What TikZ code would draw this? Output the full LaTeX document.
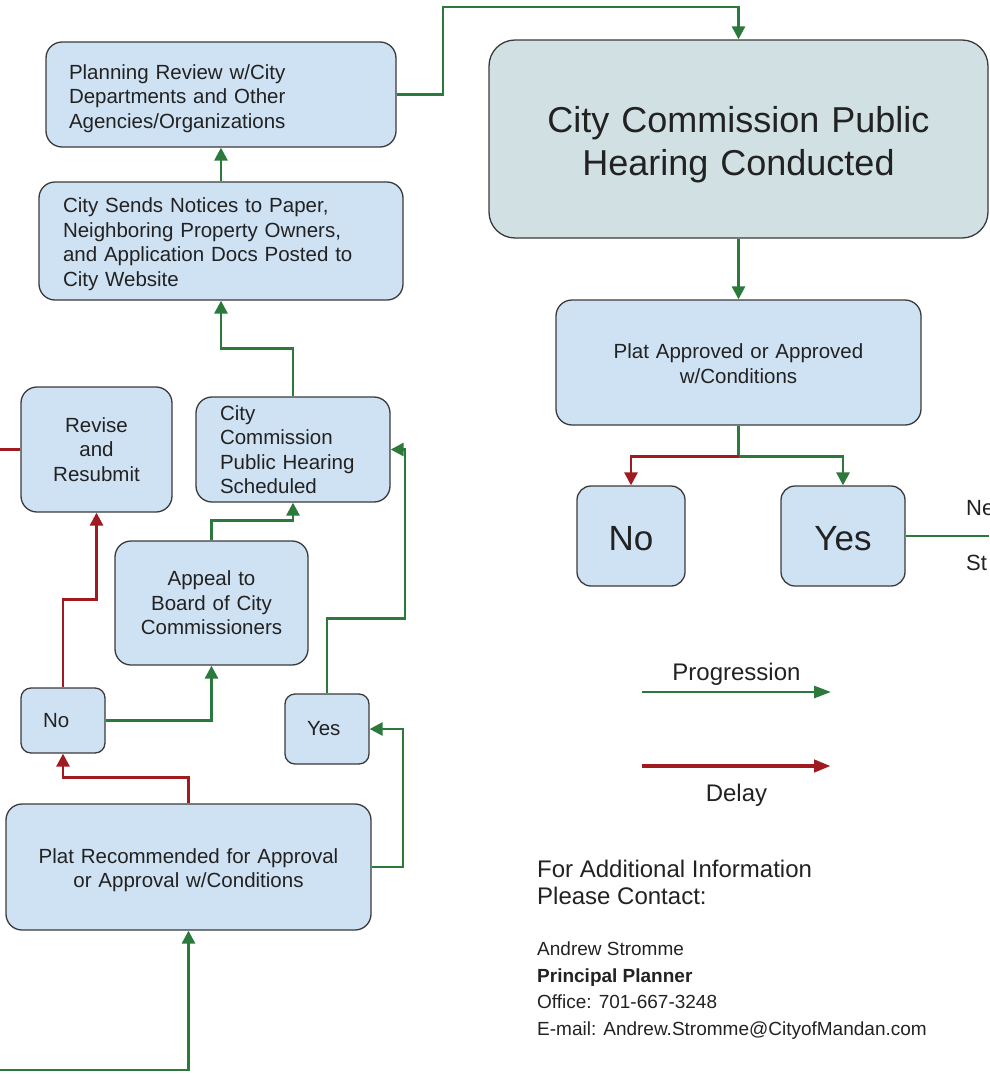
\documentclass[tikz,border=0pt]{standalone}
\usepackage{fontspec}
\setmainfont{Liberation Sans}
\usetikzlibrary{arrows.meta}
\definecolor{boxfill}{HTML}{CFE2F3}
\definecolor{hearfill}{HTML}{D0E0E3}
\definecolor{boxline}{HTML}{3A3A3A}
\definecolor{txt}{HTML}{222222}
\definecolor{gr}{RGB}{43,122,59}
\definecolor{rd}{RGB}{160,27,31}
\tikzset{
  x=1pt, y=-1pt,
  box/.style={draw=boxline, fill=boxfill, rounded corners=16pt, line width=1.3pt,
    text=txt, inner ysep=0pt, font=\fontsize{20.5}{24.5}\selectfont},
  tshift/.style={execute at begin node={\rule{0pt}{#1}}},
  gline/.style={draw=gr, line width=2.8pt},
  rline/.style={draw=rd, line width=2.8pt},
  tipa/.style={-{Triangle[length=13pt,width=13pt]}},
  prog/.style={gline, tipa},
  delay/.style={rline, tipa},
  lbl/.style={text=txt, inner sep=0pt},
}
\begin{document}
\begin{tikzpicture}
\useasboundingbox (0,0) rectangle (989,1074);
% boxes
\node[box, tshift=23pt, minimum width=350pt, minimum height=105pt, inner xsep=23pt, text width=304pt, align=left]
  (plan) at (221,94.5) {Planning Review w/City\\Departments and Other\\Agencies/Organizations};
\node[box, tshift=21pt, minimum width=364pt, minimum height=118pt, inner xsep=24pt, text width=316pt, align=left]
  (notice) at (221,241) {City Sends Notices to Paper,\\Neighboring Property Owners,\\and Application Docs Posted to\\City Website};
\node[box, minimum width=151pt, minimum height=125pt, inner xsep=8pt, text width=135pt, align=center]
  (revise) at (96.5,449.5) {Revise\\and\\Resubmit};
\node[box, minimum width=194pt, minimum height=105pt, inner xsep=24pt, text width=146pt, align=left]
  (sched) at (293,449.5) {City\\Commission\\Public Hearing\\Scheduled};
\node[box, minimum width=193pt, minimum height=124pt, inner xsep=8pt, text width=177pt, align=center]
  (appeal) at (211.5,603) {Appeal to\\Board of City\\Commissioners};
\node[box, rounded corners=10pt, minimum width=84pt, minimum height=65pt, inner xsep=22pt, text width=40pt, align=left]
  (no1) at (63,720.5) {No};
\node[box, rounded corners=10pt, minimum width=84pt, minimum height=70pt, inner xsep=22pt, text width=40pt, align=left]
  (yes1) at (327,729) {Yes};
\node[box, tshift=21pt, minimum width=365pt, minimum height=126pt, inner xsep=8pt, text width=349pt, align=center]
  (rec) at (188.5,867) {Plat Recommended for Approval\\or Approval w/Conditions};
\node[box, tshift=37pt, fill=hearfill, rounded corners=26pt, minimum width=499pt, minimum height=198pt, inner xsep=8pt, text width=483pt, align=center,
  font=\fontsize{36}{43}\selectfont]
  (hear) at (738.5,139) {City Commission Public\\Hearing Conducted};
\node[box, tshift=17pt, minimum width=365pt, minimum height=125pt, inner xsep=8pt, text width=349pt, align=center]
  (appr) at (738.5,362.5) {Plat Approved or Approved\\w/Conditions};
\node[box, tshift=29pt, rounded corners=14pt, minimum width=108pt, minimum height=100pt, inner xsep=4pt, text width=100pt, align=center,
  font=\fontsize{35}{40}\selectfont]
  (no2) at (631,536) {No};
\node[box, tshift=29pt, rounded corners=14pt, minimum width=124pt, minimum height=100pt, inner xsep=4pt, text width=116pt, align=center,
  font=\fontsize{35}{40}\selectfont]
  (yes2) at (843,536) {Yes};
% free ends
\coordinate (inL) at (0,1070);
\coordinate (outRev) at (0,449.5);
\coordinate (outYes) at (989,536);
% connectors
\draw[prog] (plan.east) -| (443,7) -| (hear.north);
\draw[prog] (notice.north) -- (plan.south);
\draw[prog] (sched.north) -- ++(0,-48) -| (notice.south);
\draw[prog] (appeal.north) -- ++(0,-20) -| (sched.south);
\draw[delay] (no1.north) -- ++(0,-88) -| (revise.south);
\draw[prog] (no1.east) -| (appeal.south);
\draw[prog] (yes1.north) -- ++(0,-75) -| (405,449.5) -- (sched.east);
\draw[delay] (rec.north) -- ++(0,-26) -| (no1.south);
\draw[prog] (rec.east) -| (403,729) -- (yes1.east);
\draw[prog] (inL) -| (rec.south);
\draw[rline] (revise.west) -- (outRev);
\draw[prog] (hear.south) -- (appr.north);
\draw[gline] (appr.south) -- ++(0,31) coordinate (split);
\draw[delay] (split) -| (no2.north);
\draw[prog] (split) -| (yes2.north);
\draw[gline] (yes2.east) -- (outYes);
% cropped labels on right
\node[lbl, anchor=base west, font=\fontsize{22}{26}\selectfont] (ne) at (966,515) {Ne};
\node[lbl, anchor=base west, font=\fontsize{22}{26}\selectfont] (st) at (966,570) {St};
% legend
\coordinate (pg1) at (642,692);
\coordinate (pg2) at (831,692);
\coordinate (dl1) at (642,766);
\coordinate (dl2) at (831,766);
\draw[gline, -{Triangle[length=17pt,width=12pt]}] (pg1) -- (pg2);
\draw[rline, line width=4.2pt, -{Triangle[length=17pt,width=12pt]}] (dl1) -- (dl2);
\node[lbl, anchor=base, font=\fontsize{24}{28}\selectfont] (lprog) at (736.5,680) {Progression};
\node[lbl, anchor=base, font=\fontsize{24}{28}\selectfont] (ldel) at (736.5,801) {Delay};
% contact
\node[lbl, anchor=base west, font=\fontsize{24}{28}\selectfont] (c1) at (537,877) {For Additional Information};
\node[lbl, anchor=base west, font=\fontsize{24}{28}\selectfont] (c2) at (537,904) {Please Contact:};
\node[lbl, anchor=base west, font=\fontsize{19}{23}\selectfont] (c3) at (537,955) {Andrew Stromme};
\node[lbl, anchor=base west, font=\fontsize{19}{23}\selectfont\bfseries] (c4) at (537,982) {Principal Planner};
\node[lbl, anchor=base west, font=\fontsize{19}{23}\selectfont] (c5) at (537,1008) {Office: 701-667-3248};
\node[lbl, anchor=base west, font=\fontsize{19}{23}\selectfont] (c6) at (537,1035) {E-mail: Andrew.Stromme@CityofMandan.com};
\end{tikzpicture}
\end{document}
